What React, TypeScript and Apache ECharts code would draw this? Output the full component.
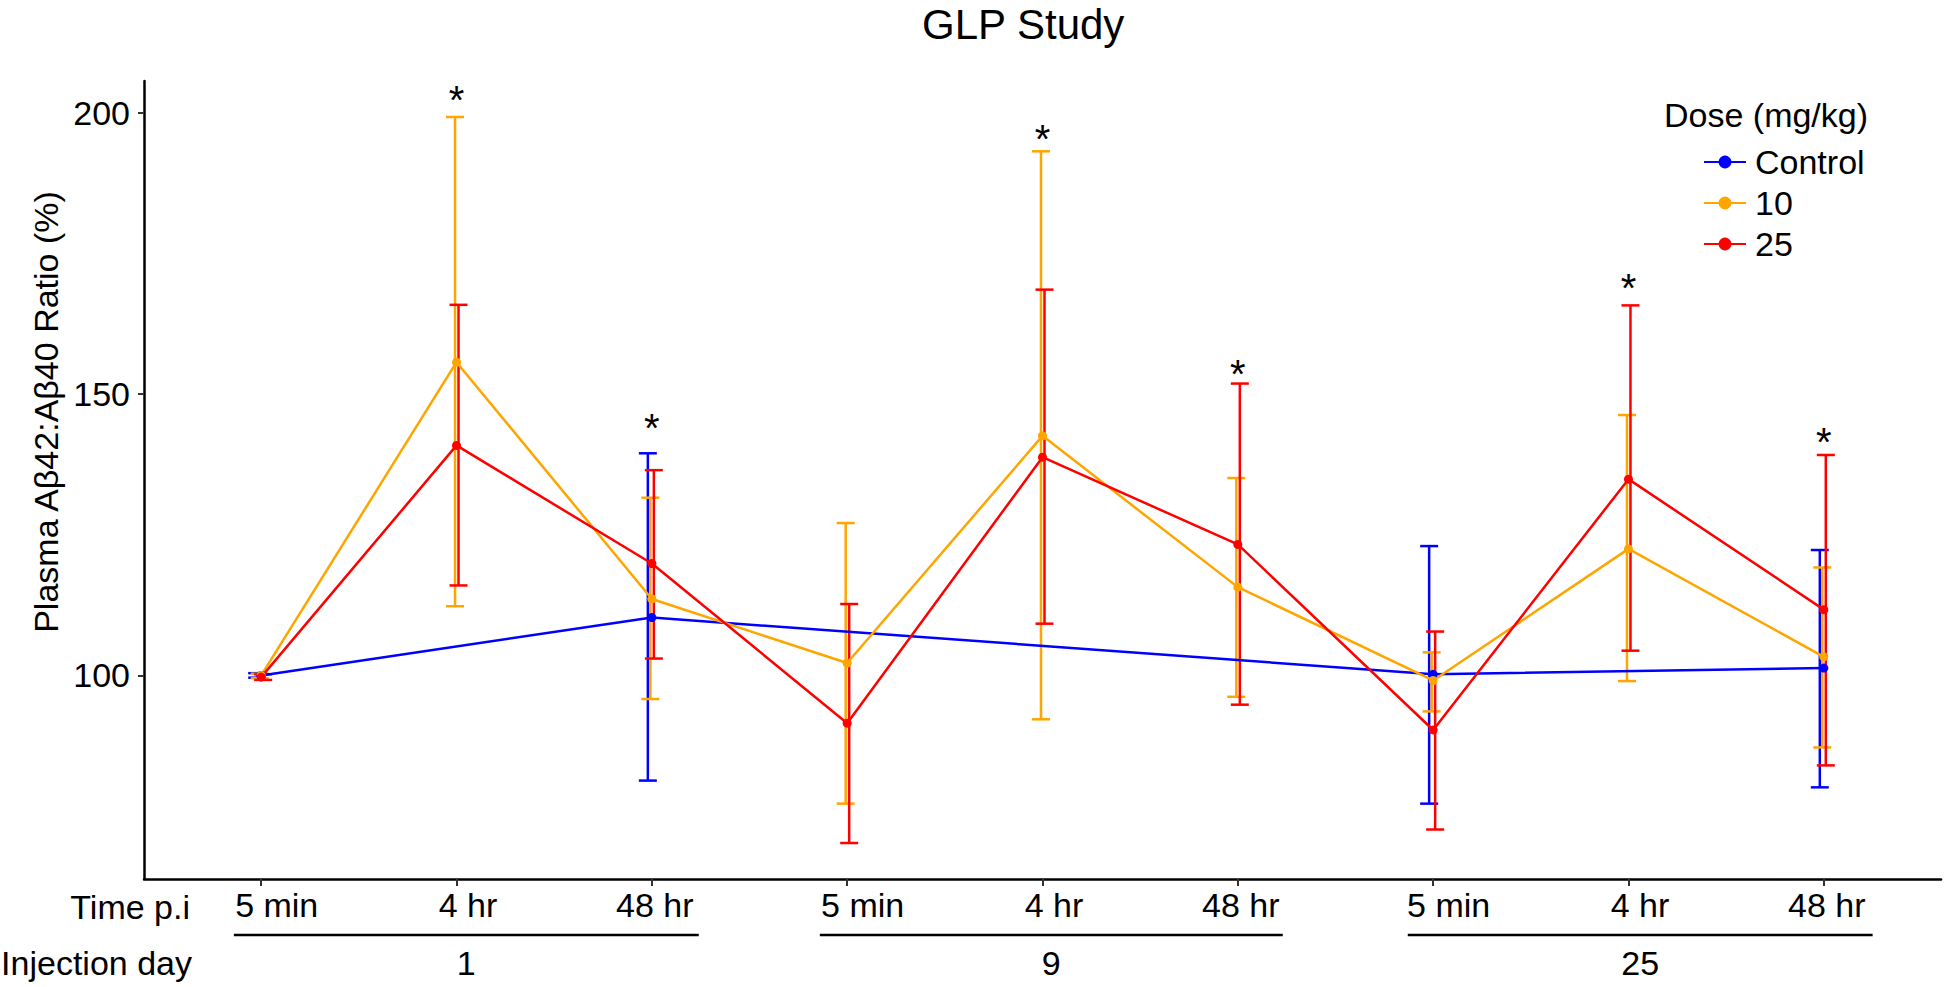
import React, { useEffect, useRef } from "react";
import * as echarts from "echarts";

const timeLabels = ["5 min", "4 hr", "48 hr", "5 min", "4 hr", "48 hr", "5 min", "4 hr", "48 hr"];
const dayLabels = ["1", "9", "25"];
const dayStart = [-0.14, 2.86, 5.87];
const dayEnd = [2.24, 5.23, 8.25];
const seriesNames = ["Control", "10", "25"];

const controlMean = [100, null, 110.3, null, null, null, 100.2, null, 101.3];
const controlLo = [99.6, null, 81.3, null, null, null, 77.2, null, 80.1];
const controlHi = [100.4, null, 139.5, null, null, null, 123.0, null, 122.3];

const dose10Mean = [100, 155.7, 113.6, 102.2, 142.6, 115.7, 99.1, 122.5, 103.3];
const dose10Lo = [99.5, 112.3, 95.8, 77.2, 92.2, 96.2, 93.6, 99.0, 87.2];
const dose10Hi = [100.3, 199.3, 131.6, 127.1, 193.2, 135.1, 104.1, 146.3, 119.2];

const dose25Mean = [99.7, 140.9, 119.9, 91.5, 138.8, 123.3, 90.3, 134.9, 111.7];
const dose25Lo = [99.2, 116.0, 103.0, 70.2, 109.2, 94.8, 72.6, 104.4, 84.0];
const dose25Hi = [100.2, 165.9, 136.5, 112.7, 168.6, 151.9, 107.8, 165.8, 139.2];

const starIndex = [1, 2, 4, 5, 7, 8];
const starY = [203.8, 145.4, 196.8, 155.0, 170.3, 142.9];

const yTicks = [100, 150, 200];
const Y_MIN = 63.8;
const Y_MAX = 205.7;

const FONT = "'Liberation Sans', Arial, Helvetica, sans-serif";
const FS = 34;
const COLORS = ["#0000FF", "#FFA500", "#FF0000"];
const DODGE = [-4, -1.5, 2];

function pairs(mean: (number | null)[]) {
  const out: number[][] = [];
  mean.forEach((v, i) => {
    if (v !== null) out.push([i, v]);
  });
  return out;
}
function triples(mean: (number | null)[], lo: (number | null)[], hi: (number | null)[]) {
  const out: number[][] = [];
  mean.forEach((v, i) => {
    if (v !== null && lo[i] !== null && hi[i] !== null) out.push([i, lo[i] as number, hi[i] as number]);
  });
  return out;
}

export default function App() {
  const ref = useRef<HTMLDivElement>(null);
  useEffect(() => {
    if (!ref.current) return;
    const chart = echarts.init(ref.current, null, { renderer: "svg" });
    const means = [controlMean, dose10Mean, dose25Mean];
    const los = [controlLo, dose10Lo, dose25Lo];
    const his = [controlHi, dose10Hi, dose25Hi];

    const errSeries = seriesNames.map((name, s) => ({
      type: "custom",
      name: name + " SD",
      z: 2,
      silent: true,
      clip: false,
      encode: { x: 0, y: [1, 2] },
      data: triples(means[s], los[s], his[s]),
      renderItem: (params: any, api: any) => {
        const x = api.value(0);
        const pLo = api.coord([x, api.value(1)]);
        const pHi = api.coord([x, api.value(2)]);
        const cx = pLo[0] + DODGE[s];
        const st = { stroke: COLORS[s], lineWidth: 2.5 };
        return {
          type: "group",
          children: [
            { type: "line", shape: { x1: cx, y1: pHi[1], x2: cx, y2: pLo[1] }, style: st },
            { type: "line", shape: { x1: cx - 9, y1: pHi[1], x2: cx + 9, y2: pHi[1] }, style: st },
            { type: "line", shape: { x1: cx - 9, y1: pLo[1], x2: cx + 9, y2: pLo[1] }, style: st },
          ],
        };
      },
    }));

    const lineSeries = seriesNames.map((name, s) => ({
      type: "line",
      name,
      z: 3,
      data: pairs(means[s]),
      symbol: "circle",
      symbolSize: 9,
      showSymbol: true,
      itemStyle: { color: COLORS[s] },
      lineStyle: { color: COLORS[s], width: 2.5 },
      emphasis: { disabled: true },
    }));

    const starSeries = {
      type: "custom",
      name: "significance",
      z: 4,
      silent: true,
      clip: false,
      data: starIndex.map((i, k) => [i, starY[k]]),
      renderItem: (params: any, api: any) => {
        const p = api.coord([api.value(0), api.value(1)]);
        return {
          type: "text",
          x: p[0],
          y: p[1] + 8,
          style: {
            text: "*",
            fill: "#000",
            font: `40px ${FONT}`,
            textAlign: "center",
            textVerticalAlign: "middle",
          },
        };
      },
    };

    const daySeries = {
      type: "custom",
      name: "Injection day",
      z: 4,
      silent: true,
      clip: false,
      encode: { x: [0, 1] },
      data: dayLabels.map((d, k) => [dayStart[k], dayEnd[k], k]),
      renderItem: (params: any, api: any) => {
        const p0 = api.coord([api.value(0), Y_MIN]);
        const p1 = api.coord([api.value(1), Y_MIN]);
        const k = api.value(2);
        const ly = p0[1] + 56;
        return {
          type: "group",
          children: [
            { type: "line", shape: { x1: p0[0], y1: ly, x2: p1[0], y2: ly }, style: { stroke: "#000", lineWidth: 2.5 } },
            {
              type: "text",
              x: (p0[0] + p1[0]) / 2,
              y: p0[1] + 84,
              style: {
                text: dayLabels[k],
                fill: "#000",
                font: `${FS}px ${FONT}`,
                textAlign: "center",
                textVerticalAlign: "middle",
              },
            },
          ],
        };
      },
    };

    const richKeys = ["a", "b", "c"];
    chart.setOption({
      animation: false,
      backgroundColor: "#fff",
      title: {
        text: "GLP Study",
        left: 917,
        top: -2,
        textStyle: { fontFamily: FONT, fontSize: 42, fontWeight: "normal", color: "#000" },
      },
      legend: {
        data: seriesNames,
        orient: "vertical",
        left: 1698,
        top: 140,
        itemWidth: 42,
        itemHeight: 16,
        itemGap: 7,
        selectedMode: false,
        textStyle: { fontFamily: FONT, fontSize: FS, lineHeight: 34, color: "#000", padding: [0, 0, 0, 4] },
      },
      grid: { left: 144, right: 3, top: 81, bottom: 108, containLabel: false },
      xAxis: {
        type: "value",
        min: -0.6,
        max: 8.6,
        splitLine: { show: false },
        axisLine: { show: true, onZero: false, lineStyle: { color: "#000", width: 2.5 } },
        axisTick: { show: true, customValues: [0, 1, 2, 3, 4, 5, 6, 7, 8], length: 7, lineStyle: { color: "#333", width: 2 } },
        axisLabel: {
          show: true,
          customValues: [0, 1, 2, 3, 4, 5, 6, 7, 8],
          margin: 9,
          formatter: (v: number) => {
            const i = Math.round(v);
            return `{${richKeys[i % 3]}|${timeLabels[i]}}`;
          },
          rich: {
            a: { fontFamily: FONT, fontSize: FS, color: "#000", padding: [0, 0, 0, 31] },
            b: { fontFamily: FONT, fontSize: FS, color: "#000", padding: [0, 0, 0, 23] },
            c: { fontFamily: FONT, fontSize: FS, color: "#000", padding: [0, 0, 0, 6] },
          },
        },
      },
      yAxis: {
        type: "value",
        min: Y_MIN,
        max: Y_MAX,
        splitLine: { show: false },
        axisLine: { show: true, onZero: false, lineStyle: { color: "#000", width: 2.5 } },
        axisTick: { show: true, customValues: yTicks, length: 6, lineStyle: { color: "#333", width: 2 } },
        axisLabel: {
          show: true,
          customValues: yTicks,
          margin: 14,
          fontFamily: FONT,
          fontSize: FS,
          color: "#000",
        },
      },
      graphic: [
        {
          type: "text",
          x: 46,
          y: 412,
          rotation: Math.PI / 2,
          style: {
            text: "Plasma Aβ42:Aβ40 Ratio (%)",
            fill: "#000",
            font: `${FS}px ${FONT}`,
            textAlign: "center",
            textVerticalAlign: "middle",
          },
        },
        {
          type: "text",
          x: 1664,
          y: 115,
          style: {
            text: "Dose (mg/kg)",
            fill: "#000",
            font: `${FS}px ${FONT}`,
            textAlign: "left",
            textVerticalAlign: "middle",
          },
        },
        {
          type: "text",
          x: 190,
          y: 907,
          style: { text: "Time p.i", fill: "#000", font: `${FS}px ${FONT}`, textAlign: "right", textVerticalAlign: "middle" },
        },
        {
          type: "text",
          x: 192,
          y: 963,
          style: { text: "Injection day", fill: "#000", font: `${FS}px ${FONT}`, textAlign: "right", textVerticalAlign: "middle" },
        },
      ],
      series: [...errSeries, ...lineSeries, starSeries, daySeries],
    });
    return () => chart.dispose();
  }, []);
  return <div ref={ref} style={{ position: "absolute", left: 0, top: 0, width: 1944, height: 987 }} />;
}
